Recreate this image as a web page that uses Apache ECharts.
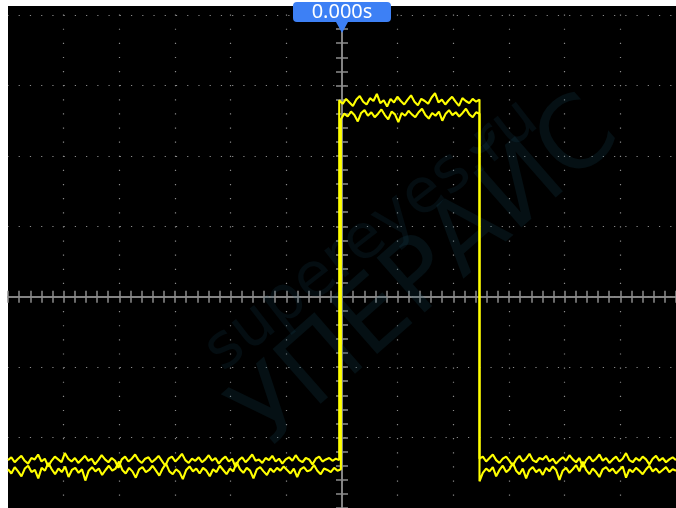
<!DOCTYPE html>
<html><head><meta charset="utf-8">
<script src="https://cdn.jsdelivr.net/npm/echarts@6/dist/echarts.min.js"></script>
<style>html,body{margin:0;padding:0;background:#fff;}#c{width:676px;height:508px;}</style>
</head><body><div id="c"></div>
<script>
// Axis extents (time and amplitude in screen divisions)
const xMin = -6, xMax = 6;
const yMin = -3, yMax = 4.1289;
const triggerLabel = '0.000s';
const riseTimeA = -0.05, riseTimeB = -0.02, fallTime = 2.47;

// Trace A (upper envelope) and trace B (lower envelope)
const lowLeftA = [-2.32,-2.28,-2.35,-2.30,-2.26,-2.33,-2.37,-2.29,-2.31,-2.24,
  -2.34,-2.30,-2.41,-2.33,-2.27,-2.31,-2.35,-2.22,-2.30,-2.34,
  -2.29,-2.36,-2.31,-2.26,-2.33,-2.30,-2.38,-2.32,-2.25,-2.31,
  -2.35,-2.29,-2.33,-2.43,-2.31,-2.27,-2.34,-2.30,-2.24,-2.32,
  -2.36,-2.30,-2.28,-2.35,-2.31,-2.26,-2.33,-2.40,-2.30,-2.27,
  -2.34,-2.29,-2.23,-2.32,-2.36,-2.30,-2.33,-2.28,-2.35,-2.31,
  -2.25,-2.33,-2.29,-2.37,-2.31,-2.27,-2.34,-2.30,-2.42,-2.32,
  -2.28,-2.35,-2.30,-2.24,-2.33,-2.31,-2.36,-2.29,-2.32,-2.26,
  -2.34,-2.30,-2.37,-2.31,-2.28,-2.33,-2.25,-2.32,-2.35,-2.29,
  -2.31,-2.38,-2.30,-2.27,-2.34,-2.31,-2.29,-2.33,-2.30,-2.32];
const lowLeftB = [-2.45,-2.51,-2.42,-2.48,-2.55,-2.44,-2.40,-2.49,-2.46,-2.58,
  -2.43,-2.47,-2.36,-2.45,-2.52,-2.44,-2.49,-2.41,-2.56,-2.46,
  -2.43,-2.50,-2.45,-2.61,-2.47,-2.42,-2.48,-2.44,-2.53,-2.46,
  -2.40,-2.47,-2.44,-2.34,-2.46,-2.51,-2.43,-2.48,-2.57,-2.45,
  -2.42,-2.49,-2.46,-2.40,-2.47,-2.54,-2.44,-2.37,-2.48,-2.52,
  -2.45,-2.49,-2.59,-2.46,-2.41,-2.48,-2.44,-2.51,-2.43,-2.47,
  -2.55,-2.45,-2.49,-2.40,-2.46,-2.52,-2.44,-2.48,-2.35,-2.45,
  -2.50,-2.43,-2.47,-2.58,-2.45,-2.42,-2.48,-2.53,-2.44,-2.49,
  -2.43,-2.47,-2.41,-2.46,-2.51,-2.44,-2.56,-2.45,-2.42,-2.48,
  -2.46,-2.39,-2.47,-2.52,-2.44,-2.46,-2.49,-2.43,-2.47,-2.45];
const highA = [2.79,2.74,2.81,2.76,2.71,2.80,2.85,2.77,2.73,2.82,
  2.78,2.88,2.75,2.79,2.70,2.81,2.76,2.84,2.78,2.73,
  2.80,2.86,2.77,2.72,2.81,2.78,2.74,2.83,2.89,2.76,
  2.80,2.73,2.79,2.84,2.77,2.71,2.82,2.78,2.75,2.81,2.77,2.80];
const highB = [2.52,2.60,2.56,2.63,2.58,2.49,2.61,2.65,2.57,2.62,
  2.55,2.60,2.66,2.58,2.52,2.63,2.59,2.48,2.61,2.57,
  2.64,2.59,2.55,2.62,2.67,2.58,2.53,2.61,2.57,2.63,
  2.50,2.60,2.65,2.58,2.62,2.56,2.61,2.67,2.59,2.55,2.62,2.60];
const lowRightA = [-2.30,-2.27,-2.34,-2.29,-2.24,-2.32,-2.36,-2.30,-2.27,-2.33,
  -2.40,-2.31,-2.26,-2.34,-2.30,-2.23,-2.32,-2.35,-2.29,-2.31,
  -2.26,-2.34,-2.30,-2.37,-2.32,-2.28,-2.33,-2.25,-2.31,-2.35,
  -2.29,-2.42,-2.32,-2.27,-2.34,-2.30,-2.24,-2.33,-2.29,-2.36,
  -2.31,-2.27,-2.34,-2.30,-2.22,-2.32,-2.35,-2.29,-2.33,-2.27,
  -2.31,-2.38,-2.30,-2.26,-2.33,-2.29,-2.35,-2.31,-2.28,-2.32];
const lowRightB = [-2.62,-2.50,-2.44,-2.48,-2.42,-2.55,-2.46,-2.40,-2.49,-2.45,
  -2.36,-2.47,-2.52,-2.44,-2.58,-2.46,-2.42,-2.49,-2.45,-2.53,
  -2.43,-2.48,-2.41,-2.46,-2.60,-2.47,-2.43,-2.50,-2.45,-2.39,
  -2.48,-2.34,-2.46,-2.52,-2.44,-2.49,-2.56,-2.45,-2.42,-2.48,
  -2.44,-2.51,-2.46,-2.41,-2.57,-2.45,-2.49,-2.43,-2.47,-2.52,
  -2.45,-2.40,-2.48,-2.44,-2.50,-2.46,-2.42,-2.49,-2.45,-2.47];

function segment(t0, t1, vals) {
  const n = vals.length;
  return vals.map((v, i) => [t0 + (t1 - t0) * i / (n - 1), v]);
}
const traceA = [].concat(segment(xMin, riseTimeA, lowLeftA), segment(riseTimeA, fallTime, highA), segment(fallTime, xMax, lowRightA));
const traceB = [].concat(segment(xMin, riseTimeB, lowLeftB), segment(riseTimeB, fallTime, highB), segment(fallTime, xMax, lowRightB));

const chart = echarts.init(document.getElementById('c'), null, {renderer: 'canvas'});
const divX = 56.17, divY = 70.6;
const grey = '#8c8c8c', dotGrey = '#8a8a8a';
const tickAxisX = (inside) => ({
  type: 'value', min: xMin, max: xMax, interval: 0.2, position: 'bottom', gridIndex: 0,
  axisLine: {show: true, onZero: true, lineStyle: {color: grey, width: 1.5}},
  axisTick: {show: true, inside: inside, length: 6, lineStyle: {color: grey, width: 1.5}},
  axisLabel: {show: false}, splitLine: {show: false}
});
const tickAxisY = (inside) => ({
  type: 'value', min: yMin, max: yMax, interval: 0.2, position: 'left', gridIndex: 0,
  axisLine: {show: true, onZero: true, lineStyle: {color: grey, width: 1.5}},
  axisTick: {show: true, inside: inside, length: 6, lineStyle: {color: grey, width: 1.5}},
  axisLabel: {show: false}, splitLine: {show: false}
});

chart.setOption({
  animation: false,
  backgroundColor: '#ffffff',
  grid: {left: 8, top: 6, width: 12 * divX, height: (yMax - yMin) * divY,
    show: true, backgroundColor: '#000000', borderWidth: 0},
  graphic: [
    {type: 'text', z: 1, silent: true,
      x: 428, y: 275, rotation: 0.72,
      style: {text: 'УПЕРАЙС', fontSize: 100, fontFamily: 'DejaVu Sans', fill: 'rgba(25,80,100,0.2)', align: 'center', verticalAlign: 'middle'}},
    {type: 'text', z: 1, silent: true,
      x: 372, y: 236, rotation: 0.66,
      style: {text: 'supereyes.ru', fontSize: 62, fontFamily: 'DejaVu Sans', fill: 'rgba(25,80,100,0.17)', align: 'center', verticalAlign: 'middle'}}
  ],
  xAxis: [
    {type: 'value', min: xMin, max: xMax, interval: 1, gridIndex: 0,
      axisLine: {show: false}, axisTick: {show: false}, axisLabel: {show: false},
      splitLine: {show: true, showMinLine: false, showMaxLine: false,
        lineStyle: {color: dotGrey, width: 1.2, type: [1.2, divY / 5 - 1.2], dashOffset: 5.6}}},
    tickAxisX(false),
    tickAxisX(true)
  ],
  yAxis: [
    {type: 'value', min: yMin, max: yMax, interval: 1, gridIndex: 0,
      axisLine: {show: false}, axisTick: {show: false}, axisLabel: {show: false},
      splitLine: {show: true, showMinLine: false, showMaxLine: false,
        lineStyle: {color: dotGrey, width: 1.2, type: [1.2, divX / 5 - 1.2], dashOffset: 0.6}}},
    tickAxisY(false),
    tickAxisY(true)
  ],
  series: [
    {type: 'line', data: traceA, xAxisIndex: 0, yAxisIndex: 0, showSymbol: false, z: 3,
      lineStyle: {color: '#ffff00', width: 2.1}, clip: true,
      markPoint: {
        z: 10, silent: true,
        symbol: 'path://M4,0 L94,0 Q98,0 98,4 L98,16 Q98,20 94,20 L55,20 L49,31 L43,20 L4,20 Q0,20 0,16 L0,4 Q0,0 4,0 Z',
        symbolSize: [98, 31], symbolOffset: [0, 11.5],
        itemStyle: {color: '#3d80f5'},
        label: {show: true, position: 'inside', offset: [0, -5.5], formatter: triggerLabel,
          color: '#ffffff', fontSize: 20, fontFamily: 'Noto Sans'},
        data: [{coord: [0, yMax]}]
      }},
    {type: 'line', data: traceB, xAxisIndex: 0, yAxisIndex: 0, showSymbol: false, z: 3,
      lineStyle: {color: '#ffff00', width: 2.1}, clip: true}
  ]
});
</script></body></html>
